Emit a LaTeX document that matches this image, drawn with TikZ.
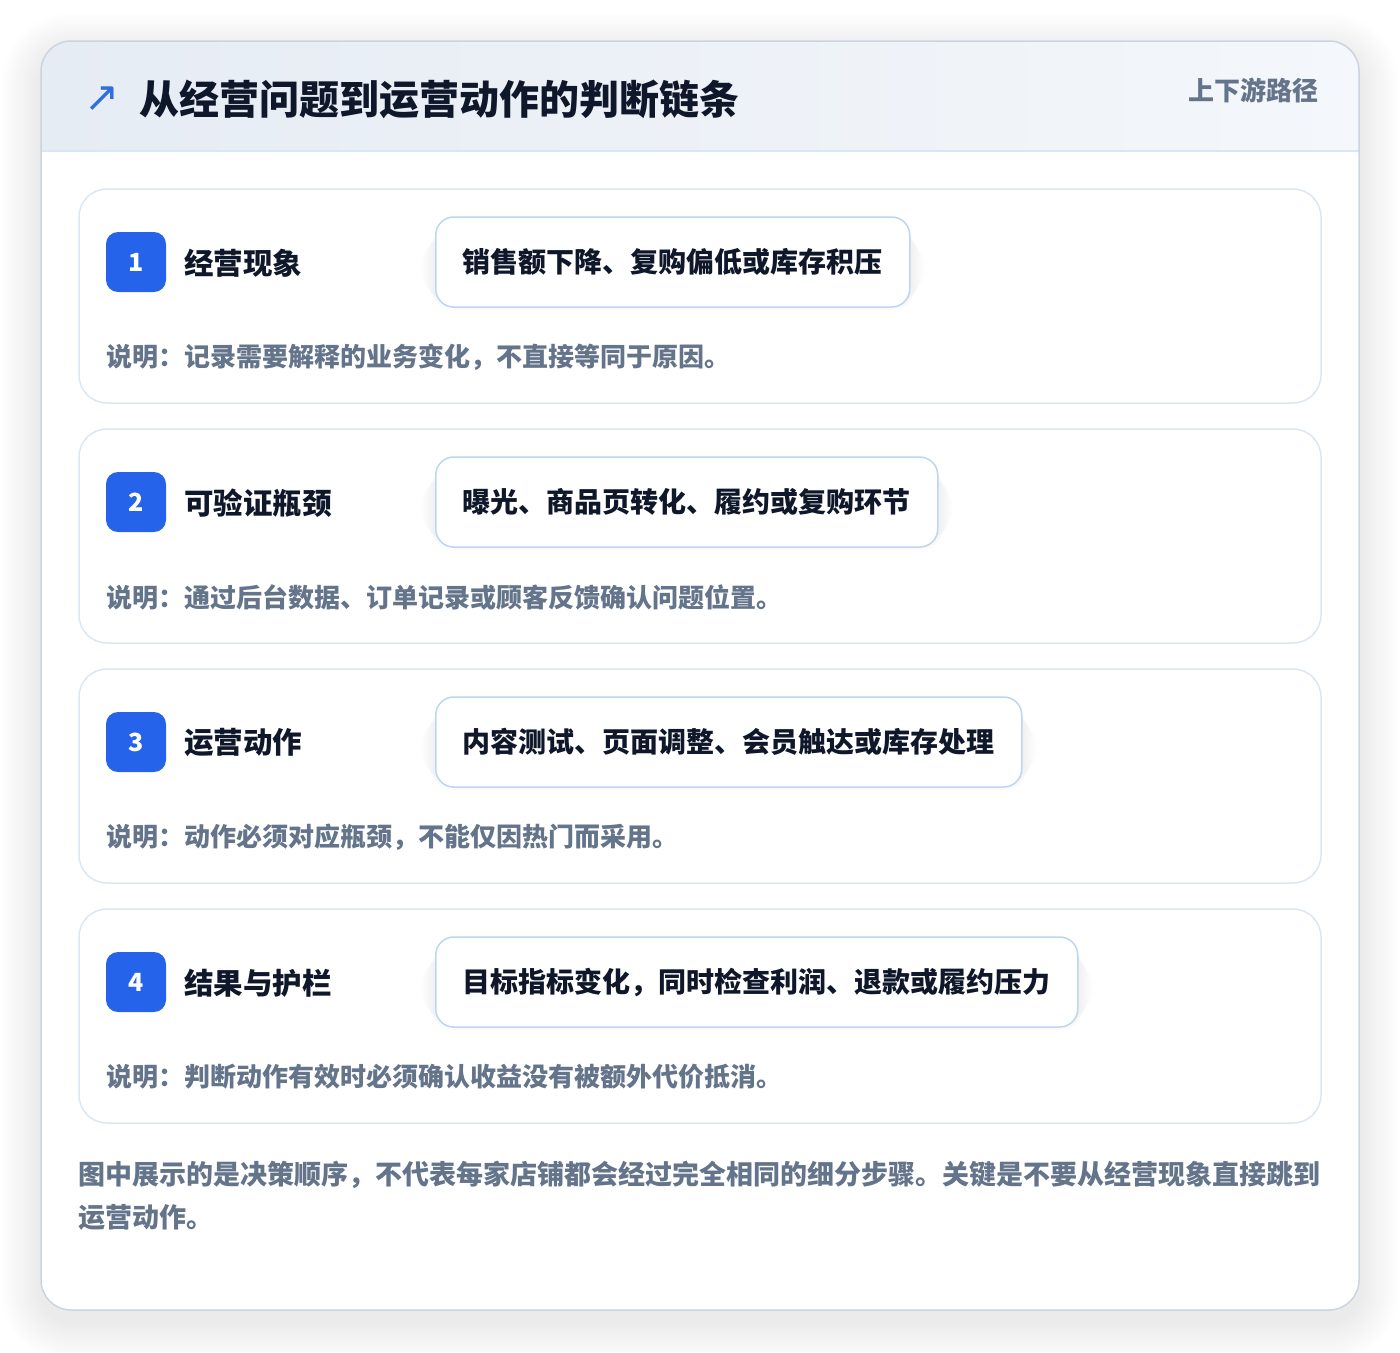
\documentclass[tikz,border=0pt]{standalone}
\usepackage{fontspec}
\setmainfont{Noto Sans CJK SC}
\newfontfamily\symfont{DejaVu Sans}
\definecolor{darktext}{HTML}{0F172A}
\definecolor{graytext}{HTML}{64748B}
\definecolor{badgeblue}{HTML}{2563EB}
\definecolor{iconblue}{HTML}{2F6FDC}
\definecolor{cardline}{HTML}{DCE7F5}
\definecolor{pillline}{HTML}{BED5F1}
\definecolor{outerline}{HTML}{CBD5E1}
\definecolor{hdrL}{HTML}{E6ECF4}
\definecolor{hdrR}{HTML}{F4F7FB}
\definecolor{hdrline}{HTML}{D9E6F6}
\definecolor{shadowcol}{HTML}{334155}
\tikzset{
  stepcardbox/.style={draw=cardline, line width=1.5pt, fill=white, rounded corners=28pt},
  badgebox/.style={fill=badgeblue, rounded corners=12pt, minimum width=60pt, minimum height=60pt, inner sep=0pt, text=white, font=\bfseries\fontsize{25}{25}\selectfont},
  steplabel/.style={anchor=west, inner sep=0pt, text=darktext, font=\bfseries\fontsize{29.5}{30}\selectfont},
  pillbox/.style={anchor=west, draw=pillline, line width=1.5pt, fill=white, rounded corners=18pt, minimum height=90pt, inner xsep=27pt, text=darktext, font=\bfseries\fontsize{28}{28}\selectfont},
  desctext/.style={anchor=west, inner sep=0pt, text=graytext, font=\bfseries\fontsize{26}{26}\selectfont},
}
\newcommand\mystep[6]{%
  \path[stepcardbox] (79,#1) rectangle (1321,#1+214);
  \node[pillbox, opacity=0] (pillghost#2) at (435,#1+73) {#4};
  \foreach \i [evaluate=\i as \r using 18+2*\i, evaluate=\i as \d using 2*\i] in {1,...,7}
    \fill[shadowcol, opacity=0.008, rounded corners=\r pt]
      ([xshift=-\d pt, yshift=-\d pt-6pt]pillghost#2.north west) rectangle ([xshift=\d pt, yshift=\d pt-6pt]pillghost#2.south east);
  \node[pillbox] (pill#2) at (435,#1+73) {#4};
  \node[badgebox] (badge#2) at (136,#1+73) {#2};
  \node[steplabel] (label#2) at (184,#1+74) {#3};
  \node[desctext] (desc#2) at (106,#1+168) {#5#6};
}
\begin{document}
\begin{tikzpicture}[x=1pt,y=-1pt]
\useasboundingbox (0,0) rectangle (1400,1352);
\fill[white] (0,0) rectangle (1400,1352);
% outer card soft shadow
\foreach \i [evaluate=\i as \r using 30+2*\i, evaluate=\i as \d using 2*\i] in {1,...,20}
  \fill[shadowcol, opacity=0.0045, rounded corners=\r pt] (41-\d,41-\d+12) rectangle (1359+\d,1310+\d+12);
\fill[white, rounded corners=30pt] (41,41) rectangle (1359,1310);
\begin{scope}
  \clip[rounded corners=30pt] (41,41) rectangle (1359,1310);
  \shade[left color=hdrL, right color=hdrR] (41,41) rectangle (1359,151);
\end{scope}
\draw[hdrline, line width=1.5pt] (41,151) -- (1359,151);
\draw[outerline, line width=1.5pt, rounded corners=30pt] (41,41) rectangle (1359,1310);
% header
\node[inner sep=0pt, text=iconblue, font=\symfont\fontsize{42}{42}\selectfont] (icon) at (102,99) {↗};
\node[anchor=west, inner sep=0pt, text=darktext, font=\bfseries\fontsize{40}{40}\selectfont] (title) at (139,99) {从经营问题到运营动作的判断链条};
\node[anchor=east, inner sep=0pt, text=graytext, font=\bfseries\fontsize{26}{26}\selectfont] (tag) at (1319,90) {上下游路径};
% steps
\mystep{189}{1}{经营现象}{销售额下降、复购偏低或库存积压}{说明：记录需要解释的业务变化，}{不直接等同于原因。}
\mystep{429}{2}{可验证瓶颈}{曝光、商品页转化、履约或复购环节}{说明：通过后台数据、订单记录或}{顾客反馈确认问题位置。}
\mystep{669}{3}{运营动作}{内容测试、页面调整、会员触达或库存处理}{说明：动作必须对应瓶颈，}{不能仅因热门而采用。}
\mystep{909}{4}{结果与护栏}{目标指标变化，同时检查利润、退款或履约压力}{说明：判断动作有效时必须确认}{收益没有被额外代价抵消。}
% footer
\node[anchor=west, inner sep=0pt, text=graytext, font=\bfseries\fontsize{27}{27}\selectfont] (foot1) at (78,1175) {图中展示的是决策顺序，不代表每家店铺都会经过完全相同的细分步骤。关键是不要从经营现象直接跳到};
\node[anchor=west, inner sep=0pt, text=graytext, font=\bfseries\fontsize{27}{27}\selectfont] (foot2) at (78,1217) {运营动作。};
\end{tikzpicture}
\end{document}
